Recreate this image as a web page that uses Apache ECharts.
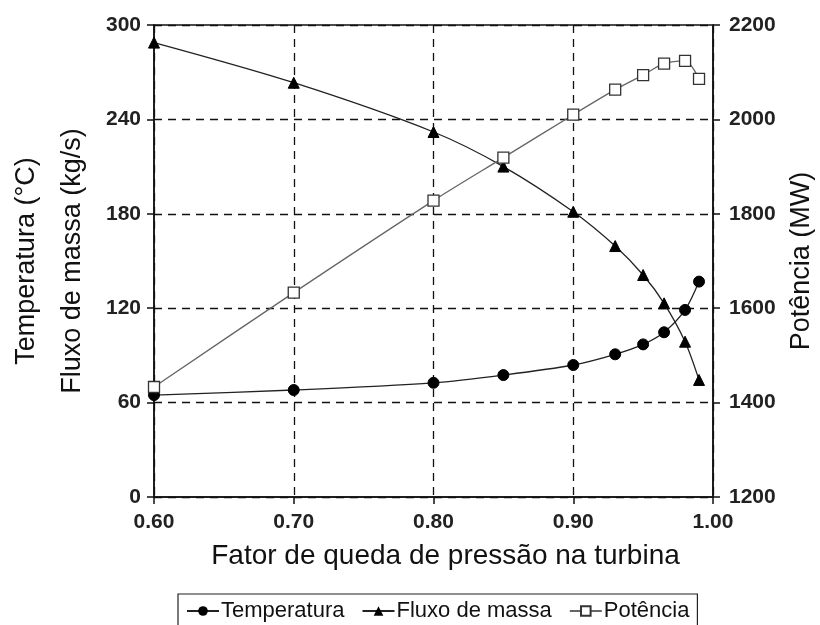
<!DOCTYPE html>
<html>
<head>
<meta charset="utf-8">
<script src="https://cdn.jsdelivr.net/npm/echarts@6/dist/echarts.min.js"></script>
<style>
  html, body { margin: 0; padding: 0; background: #fff; }
  #chart { width: 820px; height: 625px; }
</style>
</head>
<body>
<div id="chart"></div>
<script>
// Turbine pressure-drop factor (x) against temperature, mass flow and power
const pressureFactor = [0.60, 0.70, 0.80, 0.85, 0.90, 0.93, 0.95, 0.965, 0.98, 0.99];
const temperatura = [64.8, 68.0, 72.6, 77.5, 83.9, 90.7, 97.0, 104.7, 118.9, 136.9];
const fluxoMassa = [288.8, 263.3, 232.0, 210.0, 181.3, 159.5, 141.1, 123.1, 98.7, 74.4];
const potencia = [1433, 1633, 1828, 1919, 2010, 2063, 2094, 2118, 2124, 2086];

const seriesNames = ['Temperatura', 'Fluxo de massa', 'Potência'];

const pair = (xs, ys) => xs.map((x, i) => [x, ys[i]]);

const font = 'Liberation Sans, Arial, sans-serif';
const tickLabel = { color: '#222', fontFamily: font, fontWeight: 'bold', fontSize: 21 };
const dashed = { show: true, lineStyle: { color: '#111', type: [8, 6], width: 1.3 } };
const solidAxis = { show: true, lineStyle: { color: '#111', width: 1.5 } };
const ticks = { show: true, length: 7, lineStyle: { color: '#111', width: 1.5 } };

const chart = echarts.init(document.getElementById('chart'), null, { renderer: 'canvas' });
chart.setOption({
  animation: false,
  backgroundColor: '#fff',
  grid: {
    left: 154, right: 107, top: 25, bottom: 128,
    containLabel: false, outerBoundsMode: 'none',
    show: true, borderColor: '#111', borderWidth: 1.5, backgroundColor: 'transparent'
  },
  legend: {
    data: seriesNames,
    left: 178, top: 594,
    itemWidth: 32, itemHeight: 12, itemGap: 17,
    padding: [6, 8, 12, 8],
    borderColor: '#222', borderWidth: 1.2,
    textStyle: { fontFamily: font, fontSize: 22, color: '#111', padding: [0, 0, 0, -3] }
  },
  xAxis: {
    type: 'value', min: 0.6, max: 1.0, interval: 0.1,
    name: 'Fator de queda de pressão na turbina',
    nameLocation: 'middle', nameGap: 45,
    nameTextStyle: { fontFamily: font, fontSize: 28, color: '#111', padding: [0, 0, 0, 24] },
    axisLine: solidAxis, axisTick: ticks,
    axisLabel: Object.assign({ margin: 15, formatter: v => v.toFixed(2) }, tickLabel),
    splitLine: dashed
  },
  yAxis: [
    {
      type: 'value', min: 0, max: 300, interval: 60, position: 'left',
      name: 'Temperatura (°C)\nFluxo de massa (kg/s)',
      nameLocation: 'middle', nameGap: 57, nameRotate: 90,
      nameTextStyle: { fontFamily: font, fontSize: 27, color: '#111', lineHeight: 46 },
      axisLine: solidAxis, axisTick: ticks,
      axisLabel: Object.assign({ margin: 13 }, tickLabel),
      splitLine: dashed
    },
    {
      type: 'value', min: 1200, max: 2200, interval: 200, position: 'right',
      name: 'Potência (MW)',
      nameLocation: 'middle', nameGap: 75, nameRotate: 90,
      nameTextStyle: { fontFamily: font, fontSize: 27, color: '#111' },
      axisLine: solidAxis, axisTick: ticks,
      axisLabel: Object.assign({ margin: 16, formatter: v => String(v) }, tickLabel),
      splitLine: { show: false }
    }
  ],
  series: [
    {
      name: seriesNames[0], type: 'line', yAxisIndex: 0, smooth: 0.3,
      data: pair(pressureFactor, temperatura),
      symbol: 'circle', symbolSize: 11,
      lineStyle: { color: '#222', width: 1.3 },
      itemStyle: { color: '#000', borderColor: '#000' }
    },
    {
      name: seriesNames[1], type: 'line', yAxisIndex: 0, smooth: 0.3,
      data: pair(pressureFactor, fluxoMassa),
      symbol: 'triangle', symbolSize: 11,
      lineStyle: { color: '#222', width: 1.3 },
      itemStyle: { color: '#000', borderColor: '#000' }
    },
    {
      name: seriesNames[2], type: 'line', yAxisIndex: 1, smooth: 0.3,
      data: pair(pressureFactor, potencia),
      symbol: 'rect', symbolSize: 11,
      lineStyle: { color: '#666', width: 1.3 },
      itemStyle: { color: '#fff', borderColor: '#333', borderWidth: 1.3 }
    }
  ]
});
</script>
</body>
</html>
